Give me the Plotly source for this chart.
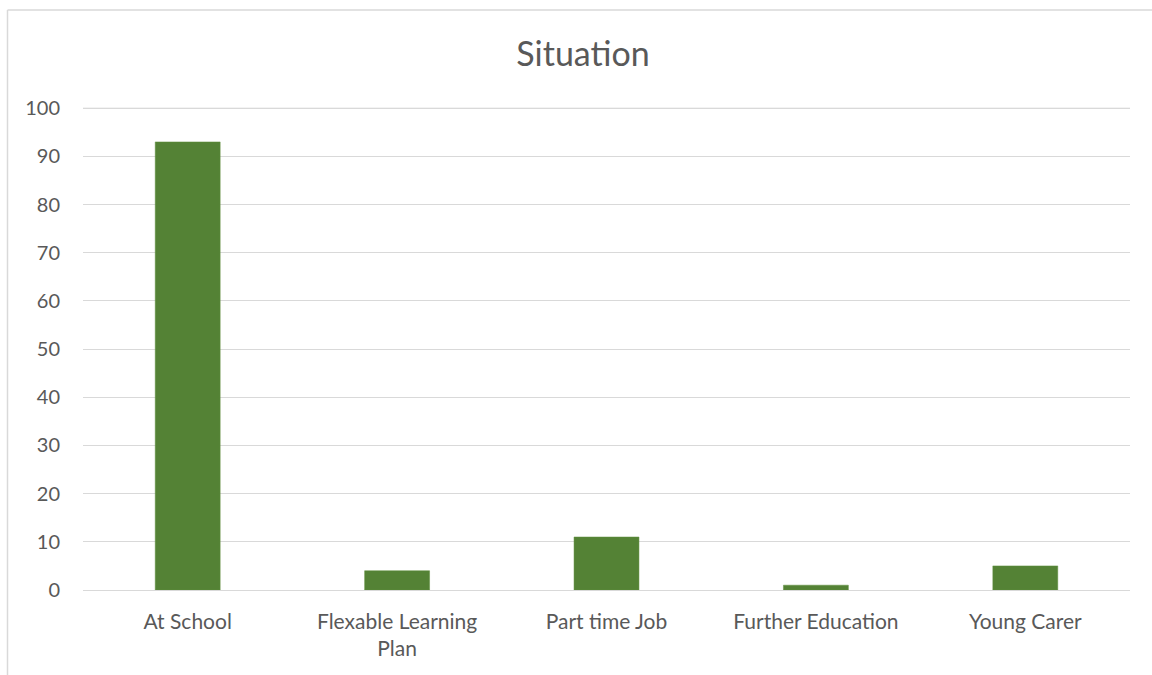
import plotly.graph_objects as go

categories = ["At School", "Flexable Learning<br>Plan", "Part time Job", "Further Education", "Young Carer"]
values = [93, 4, 11, 1, 5]
y_ticks = [0, 10, 20, 30, 40, 50, 60, 70, 80, 90, 100]

W, H = 1152, 675
L, R, T, B = 83, 22, 107, 85
pw = W - L - R
ph = H - T - B

def px_x(p):
    return (p - L) / pw

def px_y(p):
    return (H - B - p) / ph

fig = go.Figure(go.Bar(
    x=categories, y=values,
    marker=dict(color="#548235", line=dict(color="#5e8f3d", width=0.5)),
    width=0.31,
))

fig.update_layout(
    width=W, height=H,
    margin=dict(l=L, r=R, t=T, b=B),
    paper_bgcolor="white", plot_bgcolor="white",
    font=dict(family="Lato, 'Liberation Sans', sans-serif", color="#595959", size=21),
    title=dict(text="Situation", x=583 / W, xanchor="center", y=1 - 54 / H, yanchor="middle",
               font=dict(size=34, color="#595959")),
    showlegend=False,
    xaxis=dict(showgrid=False, showline=False, ticks="", ticklabelstandoff=17,
               tickfont=dict(size=21, color="#595959")),
    yaxis=dict(range=[0, 100.25], tickvals=y_ticks, showgrid=True, gridcolor="#d9d9d9", gridwidth=1,
               zeroline=True, zerolinecolor="#d9d9d9", zerolinewidth=1,
               showline=False, ticks="", ticklabelstandoff=22, tickfont=dict(size=20, color="#595959")),
    shapes=[
        dict(type="line", xref="paper", yref="paper", x0=px_x(7.5), x1=px_x(7.5), y0=px_y(10), y1=px_y(700),
             line=dict(color="#d9d9d9", width=1.5)),
        dict(type="line", xref="paper", yref="paper", x0=px_x(7.5), x1=px_x(1200), y0=px_y(10), y1=px_y(10),
             line=dict(color="#d9d9d9", width=1.5)),
        dict(type="line", xref="paper", yref="y", x0=0, x1=1, y0=y_ticks[-1], y1=y_ticks[-1],
             line=dict(color="#d9d9d9", width=1), layer="below"),
    ],
)

fig.write_html("out.html", config={"displayModeBar": False},
               post_script="document.body.style.margin='0';document.body.style.overflow='hidden';")
